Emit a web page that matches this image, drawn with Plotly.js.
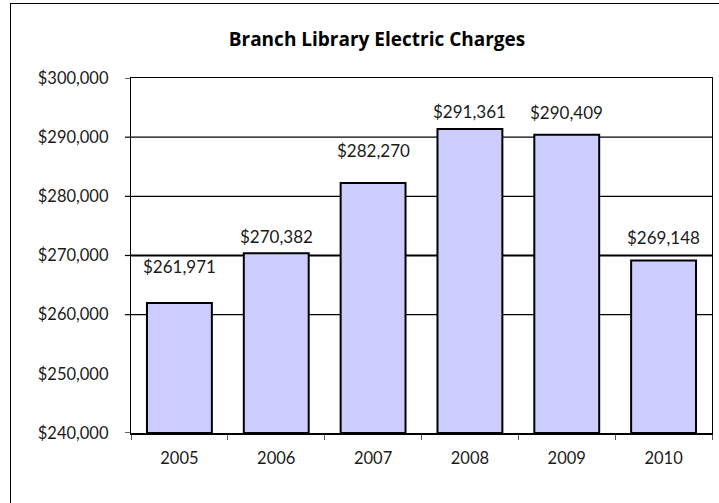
<!DOCTYPE html>
<html>
<head>
<meta charset="utf-8">
<script src="https://cdn.plot.ly/plotly-3.0.1.min.js"></script>
<style>
  html, body { margin: 0; padding: 0; background: #fff; }
  #wrap { position: relative; width: 719px; height: 503px; overflow: hidden; }
  #frame { position: absolute; left: 10px; top: 3px; width: 800px; height: 600px; border: 1px solid #000; box-sizing: border-box; pointer-events: none; z-index: 5; }
  #chart { position: absolute; left: 0; top: 0; width: 719px; height: 503px; }
</style>
</head>
<body>
<div id="wrap">
  <div id="chart"></div>
  <div id="frame"></div>
</div>
<script>
// Data
const years = ['2005', '2006', '2007', '2008', '2009', '2010'];
const charges = [261971, 270382, 282270, 291361, 290409, 269148];
const chartTitle = 'Branch Library Electric Charges';
const yTickVals = [240000, 250000, 260000, 270000, 280000, 290000, 300000];
const yTickText = ['$240,000', '$250,000', '$260,000', '$270,000', '$280,000', '$290,000', '$300,000'];
const gridVals = [260000, 270000, 280000, 290000];
const tickMarkVals = [240000, 260000, 270000, 280000, 290000, 300000];
const yFloor = 240000;

// label vertical offsets (px) as placed in the original
const labelShift = [24, 4, 20, 5, 10, 11];

const fmt = v => '$' + v.toLocaleString('en-US');

const FONT = 'Lato, "Open Sans", sans-serif';
const TXT = '#1a1a1a';

const shapes = [];
gridVals.forEach(v => {
  shapes.push({
    type: 'line', xref: 'paper', yref: 'y', x0: 0, x1: 1, y0: v, y1: v,
    line: { color: '#000', width: v === 270000 ? 2.2 : 1.2 }, layer: 'below'
  });
});
tickMarkVals.forEach(v => {
  shapes.push({
    type: 'line', xref: 'paper', yref: 'y', x0: -0.0105, x1: 0, y0: v, y1: v,
    line: { color: '#000', width: 1.2 }
  });
});

const annotations = years.map((yr, i) => ({
  x: i, y: charges[i], xref: 'x', yref: 'y',
  text: fmt(charges[i]), showarrow: false,
  yanchor: 'bottom', yshift: labelShift[i],
  font: { family: FONT, size: 17, color: TXT }
}));

const trace = {
  type: 'bar',
  x: years,
  y: charges.map(v => v - yFloor),
  base: yFloor,
  marker: { color: '#CCCCFF', line: { color: '#000', width: 2 } },
  hoverinfo: 'none'
};

const layout = {
  width: 719, height: 503,
  margin: { l: 131, r: 7, t: 78, b: 70 },
  paper_bgcolor: '#fff', plot_bgcolor: '#fff',
  showlegend: false,
  bargap: 0.33,
  title: {
    text: chartTitle,
    font: { family: '"Open Sans", Lato, sans-serif', size: 19, color: '#000', weight: 'bold' },
    x: 377 / 719, xref: 'container', xanchor: 'center',
    y: 1 - 39 / 503, yref: 'container', yanchor: 'middle'
  },
  xaxis: {
    type: 'category',
    categoryorder: 'array',
    categoryarray: years,
    range: [-0.5, years.length - 0.5],
    showgrid: false,
    showline: true, linecolor: '#000', linewidth: 1.5,
    mirror: true,
    ticks: 'outside', tickson: 'boundaries', ticklen: 5, tickcolor: '#555', tickwidth: 1,
    tickfont: { family: FONT, size: 16.5, color: TXT },
    ticklabelstandoff: 10,
    zeroline: false,
    fixedrange: true
  },
  yaxis: {
    range: [240000, 300000],
    tickvals: yTickVals,
    ticktext: yTickText,
    showgrid: false,
    showline: true, linecolor: '#000', linewidth: 1.2,
    mirror: true,
    ticks: '',
    tickfont: { family: FONT, size: 16.5, color: TXT },
    ticklabelstandoff: 18,
    zeroline: false,
    fixedrange: true
  },
  shapes: shapes,
  annotations: annotations
};

Plotly.newPlot('chart', [trace], layout, { displayModeBar: false, staticPlot: true });
</script>
</body>
</html>
